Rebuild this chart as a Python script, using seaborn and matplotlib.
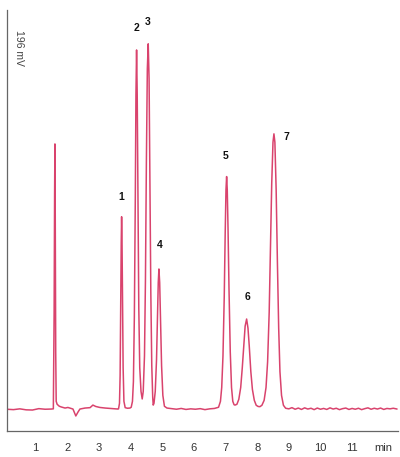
import numpy as np
import pandas as pd
import matplotlib
matplotlib.use("Agg")
import matplotlib.pyplot as plt
import seaborn as sns

# === 1. Trace (time in min, signal in mV) ===
time_min = [
    0.08, 0.30, 0.50, 0.70, 0.90, 1.10, 1.30, 1.50, 1.56,
    1.585, 1.60, 1.61, 1.62, 1.635, 1.65, 1.68, 1.75, 1.82,
    1.93, 2.02, 2.12, 2.18, 2.27, 2.34, 2.40, 2.56, 2.72, 2.81, 2.90, 3.03, 3.20, 3.35, 3.50, 3.60,
    3.62, 3.65, 3.67, 3.69, 3.705, 3.717, 3.73, 3.745, 3.765, 3.79, 3.83, 3.90, 3.98,
    4.02, 4.06, 4.09, 4.12, 4.15, 4.17, 4.19, 4.21, 4.235, 4.26, 4.29, 4.33, 4.368,
    4.40, 4.44, 4.47, 4.50, 4.53, 4.558, 4.585, 4.61, 4.64, 4.67, 4.70, 4.716,
    4.74, 4.78, 4.82, 4.85, 4.875, 4.896, 4.92, 4.945, 4.98, 5.02, 5.07, 5.15,
    5.30, 5.45, 5.60, 5.75, 5.90, 6.05, 6.20, 6.35, 6.50, 6.65,
    6.78, 6.84, 6.88, 6.92, 6.96, 6.99, 7.015, 7.035, 7.055, 7.08, 7.11, 7.15, 7.19, 7.23, 7.27, 7.30,
    7.36, 7.42, 7.48, 7.53, 7.58, 7.62, 7.667, 7.71, 7.75, 7.80, 7.85, 7.91, 7.97, 8.03, 8.087,
    8.15, 8.22, 8.28, 8.33, 8.38, 8.42, 8.46, 8.50, 8.53, 8.56, 8.60, 8.64, 8.68, 8.72, 8.77, 8.83, 8.90,
    9.00, 9.10, 9.20, 9.30, 9.40, 9.50, 9.60, 9.70, 9.80, 9.90, 10.00, 10.10, 10.20, 10.30,
    10.40, 10.50, 10.60, 10.70, 10.80, 10.90, 11.00, 11.10, 11.20, 11.30, 11.40, 11.50,
    11.60, 11.70, 11.80, 11.90, 12.00, 12.10, 12.20, 12.30, 12.42,
]
signal_mv = [
    11.0, 10.8, 11.2, 10.7, 10.6, 11.3, 11.0, 11.1, 11.2,
    60.0, 120.0, 145.1, 110.0, 40.0, 15.0, 13.5, 12.5, 12.1,
    11.6, 11.9, 11.4, 11.1, 7.6, 9.6, 11.1, 11.6, 11.8, 13.1, 12.4, 11.9, 11.6, 11.4, 11.2, 11.1,
    11.2, 14.0, 28.0, 65.0, 95.0, 108.3, 96.0, 68.0, 32.0, 15.0, 11.8, 11.5, 11.6,
    12.0, 15.0, 25.0, 58.0, 118.0, 170.0, 192.6, 170.0, 115.0, 62.0, 32.0, 20.0, 16.2,
    20.0, 38.0, 76.0, 136.0, 183.0, 195.7, 178.0, 130.0, 70.0, 33.0, 17.0, 13.1,
    14.0, 20.0, 36.0, 58.0, 75.0, 81.9, 75.0, 57.0, 33.0, 18.0, 12.5, 11.6,
    11.3, 11.0, 11.4, 10.9, 11.2, 11.0, 11.3, 10.8, 11.2, 11.4,
    12.0, 15.0, 22.0, 38.0, 68.0, 100.0, 122.0, 128.6, 122.0, 102.0, 72.0, 40.0, 22.0, 15.0, 13.3, 13.1,
    13.5, 16.0, 22.0, 32.0, 44.0, 53.0, 56.6, 52.0, 43.0, 30.0, 21.0, 15.5, 13.0, 12.4, 12.3,
    13.0, 15.5, 22.0, 35.0, 60.0, 92.0, 125.0, 146.0, 150.2, 146.0, 122.0, 85.0, 52.0, 30.0, 18.0, 13.0, 11.5,
    11.2, 11.8, 11.0, 11.6, 10.9, 11.7, 11.1, 11.5, 10.8, 11.6, 11.0, 11.4, 10.9, 11.7,
    11.1, 11.5, 10.8, 11.3, 11.6, 10.9, 11.4, 11.0, 11.5, 10.8, 11.3, 11.7,
    11.0, 11.5, 11.1, 11.6, 10.9, 11.4, 11.2, 11.5, 11.1,
]

# === 2. Peak numbers and where they sit ===
peak_labels = ["1", "2", "3", "4", "5", "6", "7"]
label_time = [3.70, 4.20, 4.55, 4.93, 7.01, 7.68, 8.94]
label_mv = [118.3, 203.8, 206.8, 94.0, 139.0, 67.7, 148.7]

x_ticks = [1, 2, 3, 4, 5, 6, 7, 8, 9, 10, 11, 12]
x_tick_labels = ["1", "2", "3", "4", "5", "6", "7", "8", "9", "10", "11", "min"]

trace = pd.DataFrame({"time": time_min, "signal": signal_mv})

# === 3. Plot ===
sns.set_style("white")
plt.rcParams["font.family"] = ["Liberation Sans", "DejaVu Sans"]

fig = plt.figure(figsize=(4.0, 4.57), dpi=100)
ax = fig.add_axes([6.5 / 400, 26 / 457, 391.5 / 400, 421 / 457])

sns.lineplot(data=trace, x="time", y="signal", ax=ax, color="#d9436d",
             linewidth=1.1, sort=False, estimator=None)

for lab, t, v in zip(peak_labels, label_time, label_mv):
    ax.text(t, v, lab, ha="center", va="center", fontsize=7.5,
            fontweight="bold", color="#111111")

ax.set_xlim(0.08, 12.45)
ax.set_ylim(0, 212.8)

ax.set_xticks(x_ticks)
ax.set_xticklabels(x_tick_labels)
ax.tick_params(axis="x", direction="out", length=3.6, width=0.8,
               color="#555555", labelsize=8, labelcolor="#333333", pad=5)
ax.xaxis.get_major_ticks()[-1].tick1line.set_visible(False)

ax.set_yticks([196])
ax.set_yticklabels([""])
ax.tick_params(axis="y", direction="in", length=2, width=0.8, color="#555555")

for side in ["top", "right"]:
    ax.spines[side].set_visible(False)
for side in ["left", "bottom"]:
    ax.spines[side].set_color("#666666")
    ax.spines[side].set_linewidth(0.9)

ax.set_xlabel("")
ax.set_ylabel("")

fig.text(19 / 400, 1 - 47.5 / 457, "196 mV", rotation=270, ha="center",
         va="center", fontsize=7.5, color="#444444")

fig.savefig("out.png", dpi=100)
